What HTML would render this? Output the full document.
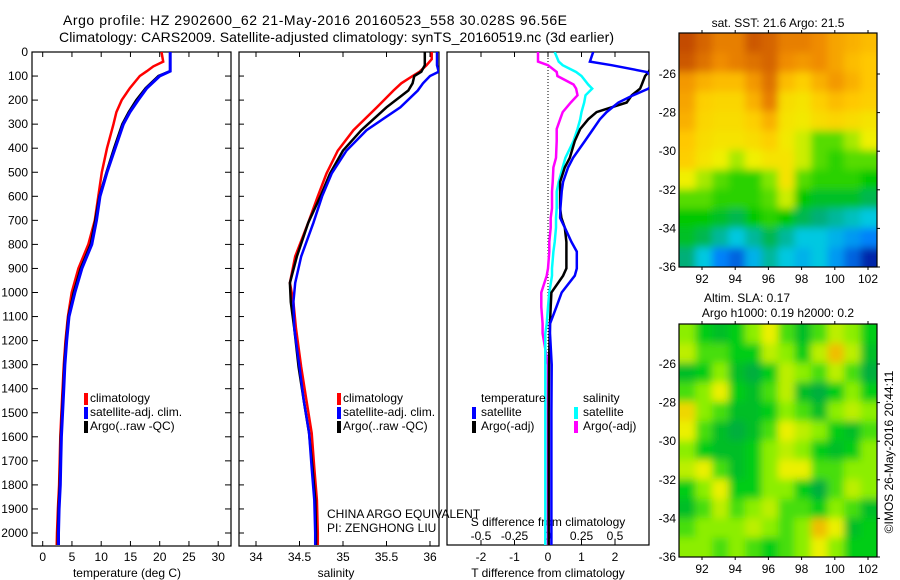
<!DOCTYPE html>
<html><head><meta charset="utf-8"><style>
body{margin:0;background:#fff}
svg{display:block;font-family:"Liberation Sans",sans-serif}
text{font-size:12px;fill:#000}
</style></head><body>
<svg id="s" width="900" height="580" viewBox="0 0 900 580">
<defs>
<clipPath id="c1"><rect x="32" y="52" width="199" height="494"/></clipPath>
<clipPath id="c2"><rect x="239" y="52" width="200" height="494"/></clipPath>
<clipPath id="c3"><rect x="447" y="52" width="202" height="493"/></clipPath>
<clipPath id="cm1"><rect x="679" y="33" width="198" height="234"/></clipPath>
<clipPath id="cm2"><rect x="679" y="324" width="198" height="233"/></clipPath>
<filter id="b1" x="-5%" y="-5%" width="110%" height="110%"><feGaussianBlur stdDeviation="4"/></filter>
<filter id="b2" x="-5%" y="-5%" width="110%" height="110%"><feGaussianBlur stdDeviation="4"/></filter>
</defs>
<text x="63" y="25" style="font-size:14px" textLength="504">Argo profile: HZ 2902600_62 21-May-2016 20160523_558 30.028S 96.56E</text>
<text x="59" y="42" style="font-size:14px" textLength="555">Climatology: CARS2009. Satellite-adjusted climatology: synTS_20160519.nc (3d earlier)</text>
<g id="g"></g>
</svg>
<script>
// ---- data ----
const depthT=[0,40,60,80,100,150,200,250,300,400,500,600,700,800,900,1000,1100,1200,1300,1400,1500,1600,1700,1800,1900,2000,2050];
const tempClim=[20.3,20.6,18.9,17.8,16.6,14.9,13.5,12.6,12.1,11.0,10.1,9.5,8.9,7.8,6.1,4.96,4.3,3.9,3.6,3.4,3.2,3.0,2.9,2.8,2.6,2.45,2.4];
const tempSat=[21.8,21.8,21.8,21.8,20.0,17.8,16.3,14.9,13.8,12.4,11.0,9.8,9.2,8.4,6.7,5.5,4.5,4.1,3.8,3.6,3.4,3.2,3.1,3.0,2.8,2.7,2.7];
const tempArgo=[21.8,21.8,21.8,21.8,19.8,17.6,16.0,14.7,13.6,12.2,10.9,9.7,9.0,8.2,6.5,5.3,4.4,4.0,3.7,3.5,3.3,3.1,3.0,2.9,2.7,2.6,2.6];
const depthS=[0,30,55,82,100,130,160,230,325,410,505,600,710,850,960,1040,1150,1310,1450,1585,1730,1863,2000,2050];
const salClim=[36.02,36.02,35.96,35.88,35.80,35.67,35.58,35.39,35.12,34.94,34.81,34.71,34.60,34.45,34.39,34.43,34.46,34.52,34.58,34.64,34.67,34.70,34.71,34.71];
const salArgo=[35.94,35.94,35.94,35.9,35.82,35.80,35.75,35.5,35.21,35.0,34.85,34.74,34.60,34.47,34.39,34.40,34.44,34.49,34.55,34.61,34.65,34.68,34.69,34.69];
const salSat=[36.08,36.08,36.08,36.1,36.0,35.92,35.86,35.66,35.27,35.04,34.87,34.76,34.66,34.52,34.45,34.43,34.44,34.5,34.55,34.61,34.64,34.67,34.68,34.68];
const depthD=[0,40,55,83,100,135,152,180,210,250,280,320,370,440,480,540,580,650,690,730,790,830,900,930,1000,1060,1130,1170,1300,1500,1700,1900,2050];
const dTsat=[1.35,1.25,1.9,2.95,3.1,3.1,3.0,2.54,2.1,1.75,1.55,1.35,1.1,0.75,0.6,0.45,0.41,0.37,0.36,0.5,0.7,0.86,0.86,0.8,0.41,0.25,0.06,0.06,0.11,0.1,0.1,0.1,0.1];
const dTargo=[3.1,3.1,3.1,3.0,2.9,2.8,2.75,2.5,2.35,1.45,1.2,0.96,0.8,0.65,0.5,0.36,0.36,0.36,0.4,0.5,0.55,0.55,0.55,0.45,0.1,0.08,0.06,0.05,0.03,0.02,0.02,0.02,0.02];
const dSsat=[0.05,0.08,0.11,0.21,0.25,0.30,0.33,0.28,0.27,0.25,0.24,0.22,0.19,0.13,0.11,0.08,0.065,0.065,0.06,0.06,0.05,0.04,0.03,0.03,0.01,0,-0.01,-0.02,-0.02,-0.02,-0.02,-0.02,-0.02];
const dSargo=[-0.075,-0.075,0.0,0.065,0.07,0.19,0.21,0.22,0.17,0.11,0.09,0.065,0.065,0.06,0.04,0.035,0.03,0.03,0.02,0.02,0.01,0.01,0.0,-0.01,-0.05,-0.05,-0.04,-0.04,0,0,0,0,0];
const depthTicks=[0,100,200,300,400,500,600,700,800,900,1000,1100,1200,1300,1400,1500,1600,1700,1800,1900,2000];
const tempTicks=[0,5,10,15,20,25,30];
const salTicks=[34,34.5,35,35.5,36];
const dTTicks=[-2,-1,0,1,2];
const dSTicks=[-0.5,-0.25,0,0.25,0.5];
const dSTickLabels=["-0.5","-0.25","0","0.25","0.5"];
const lonTicks=[92,94,96,98,100,102];
const latTicks=[-26,-28,-30,-32,-34,-36];
const sst=[
[22.4,22.2,22.0,22.0,22.3,22.2,22.0,22.0,21.9,21.7,21.6,21.5],
[22.3,22.1,21.9,22.0,22.1,22.2,21.9,21.8,21.9,21.7,21.5,21.4],
[21.8,21.6,21.5,21.5,21.8,22.1,21.5,21.3,21.6,21.8,21.6,21.4],
[21.7,21.3,21.2,21.2,21.6,22.0,21.1,21.0,21.3,21.5,21.4,21.3],
[21.6,21.2,21.1,21.1,21.3,21.6,21.0,20.9,21.1,21.2,21.1,21.0],
[21.4,21.1,21.0,21.0,21.1,21.3,20.9,20.7,20.4,20.4,20.6,20.8],
[21.3,21.0,20.8,20.6,20.8,21.0,21.0,20.7,20.4,20.3,20.4,20.4],
[20.8,20.6,20.4,20.3,20.3,20.5,21.0,20.4,20.3,20.3,20.3,20.2],
[20.4,20.4,20.3,20.3,20.3,20.4,20.7,20.2,20.1,20.1,20.1,20.0],
[20.2,20.2,20.1,20.0,20.2,20.3,20.2,20.0,19.9,19.8,19.7,19.6],
[20.1,20.0,19.8,19.6,19.8,20.0,19.8,19.6,19.6,19.5,19.4,19.3],
[19.9,19.6,19.3,19.2,19.5,19.8,19.6,19.5,19.6,19.4,19.2,19.0]];
const sla=[
[0.2,0.1,0.05,0.1,0.2,0.3,0.15,0.05,0.15,0.25,0.2,0.1],
[0.25,0.15,0.15,0.1,0.1,0.25,0.2,0.1,0.25,0.4,0.25,0.05],
[0.05,0.1,0.2,0.05,0.0,0.1,0.25,0.2,0.15,0.25,0.15,0.0],
[0.15,0.2,0.3,0.1,0.05,0.15,0.25,0.05,0.0,0.1,0.2,0.1],
[0.35,0.2,0.15,0.05,0.05,0.1,0.2,0.15,0.05,0.2,0.25,0.2],
[0.3,0.15,0.05,0.0,0.05,0.15,0.3,0.25,0.2,0.1,0.05,0.15],
[0.2,0.1,0.05,0.05,0.1,0.2,0.25,0.2,0.1,0.05,0.1,0.2],
[0.25,0.3,0.15,0.05,0.1,0.2,0.3,0.3,0.15,0.15,0.2,0.2],
[0.1,0.2,0.3,0.1,0.1,0.2,0.2,0.1,0.0,0.15,0.25,0.2],
[0.05,0.15,0.25,0.15,0.2,0.25,0.15,0.15,0.1,0.2,0.15,0.05],
[0.15,0.2,0.2,0.2,0.25,0.2,0.15,0.2,0.4,0.3,0.05,0.1],
[0.2,0.2,0.15,0.2,0.15,0.1,0.15,0.2,0.3,0.2,0.1,0.1]];

// ---- helpers ----
const NS="http://www.w3.org/2000/svg";const G=document.getElementById('g');
function mk(t,a,p){const e=document.createElementNS(NS,t);for(const k in a)e.setAttribute(k,a[k]);(p||G).appendChild(e);return e;}
const yD=d=>52+d*0.2405;
const xT=v=>42.7+v*5.85;
const xS=v=>256+(v-34)*87;
const xDT=v=>548+v*33.5;
const xDS=v=>548+v*134;
const xLon=v=>702+(v-92)*16.6;
const yLat=v=>74+(-26-v)*19.3;
function txt(x,y,s,anchor,name,size){const e=mk('text',{x:x,y:y,'text-anchor':anchor||'start'});e.textContent=s;if(size)e.style.fontSize=size+'px';


return e;}
function line(x1,y1,x2,y2,name,extra){const e=mk('line',Object.assign({x1:x1,y1:y1,x2:x2,y2:y2,stroke:'#000','stroke-width':1},extra||{}));


return e;}
function profile(depths,vals,xf,color,clip,name,w){const pts=depths.map((d,i)=>xf(vals[i]).toFixed(1)+','+yD(d).toFixed(1)).join(' ');
const e=mk('polyline',{points:pts,fill:'none',stroke:color,'stroke-width':w||2.5,'clip-path':'url(#'+clip+')','stroke-linejoin':'miter'});

}
function frame(x,y,w,h,name){const e=mk('rect',{x:x,y:y,width:w,height:h,fill:'none',stroke:'#000','stroke-width':1.2});

}
function legBar(x,y,color,name){const e=mk('rect',{x:x,y:y-9,width:4,height:12,fill:color});

}

// ---- panel 1: temperature ----
frame(32,52,199,494,'temperature-panel-frame');
depthTicks.forEach(d=>{line(32,yD(d),38,yD(d),'depth-tick');line(225,yD(d),231,yD(d),'depth-tick-right');txt(28,yD(d)+4,String(d),'end','depth-tick-label');});
tempTicks.forEach(v=>{line(xT(v),546,xT(v),541,'temp-tick');line(xT(v),52,xT(v),57,'temp-tick-top');txt(xT(v),561,String(v),'middle','temp-tick-label');});
txt(127,577,'temperature (deg C)','middle','temperature-axis-title');
profile(depthT,tempClim,xT,'#f00','c1','temp-climatology-line');
profile(depthT,tempArgo,xT,'#000','c1','temp-argo-line');
profile(depthT,tempSat,xT,'#00f','c1','temp-satellite-line',3);
legBar(84,402,'#f00','legend-climatology-swatch');txt(90,402,'climatology','start','legend-climatology');
legBar(84,416,'#00f','legend-satellite-swatch');txt(90,416,'satellite-adj. clim.','start','legend-satellite-adj');
legBar(84,430,'#000','legend-argo-swatch');txt(90,430,'Argo(..raw -QC)','start','legend-argo');

// ---- panel 2: salinity ----
frame(239,52,200,494,'salinity-panel-frame');
depthTicks.forEach(d=>{line(239,yD(d),244,yD(d),'depth-tick');});
salTicks.forEach(v=>{line(xS(v),546,xS(v),541,'sal-tick');line(xS(v),52,xS(v),57,'sal-tick-top');txt(xS(v),561,String(v),'middle','sal-tick-label');});
txt(336,577,'salinity','middle','salinity-axis-title');
profile(depthS,salClim,xS,'#f00','c2','sal-climatology-line');
profile(depthS,salArgo,xS,'#000','c2','sal-argo-line');
profile(depthS,salSat,xS,'#00f','c2','sal-satellite-line');
legBar(337,402,'#f00','legend-climatology-swatch');txt(343,402,'climatology','start','legend-climatology');
legBar(337,416,'#00f','legend-satellite-swatch');txt(343,416,'satellite-adj. clim.','start','legend-satellite-adj');
legBar(337,430,'#000','legend-argo-swatch');txt(343,430,'Argo(..raw -QC)','start','legend-argo');
txt(327,518,'CHINA ARGO EQUIVALENT','start','data-provider-label');
txt(327,532,'PI: ZENGHONG LIU','start','pi-label');

// ---- panel 3: differences ----
frame(447,52,202,493,'difference-panel-frame');
line(548,52,548,545,'zero-line',{'stroke-dasharray':'1,2'});
dTTicks.forEach(v=>{line(xDT(v),545,xDT(v),540,'dT-tick');line(xDT(v),52,xDT(v),57,'dT-tick-top');txt(xDT(v),561,String(v),'middle','dT-tick-label');});
dSTicks.forEach((v,i)=>{txt(xDS(v),540,dSTickLabels[i],'middle','dS-tick-label');});
txt(548,526,'S difference from climatology','middle','dS-axis-title');
txt(548,577,'T difference from climatology','middle','dT-axis-title');
profile(depthD,dSargo,xDS,'#f0f','c3','dS-argo-line');
profile(depthD,dSsat,xDS,'#0ff','c3','dS-satellite-line');
profile(depthD,dTargo,xDT,'#000','c3','dT-argo-line');
profile(depthD,dTsat,xDT,'#00f','c3','dT-satellite-line');
txt(481,402,'temperature','start','legend-temperature-header');
legBar(472,416,'#00f','legend-t-satellite-swatch');txt(481,416,'satellite','start','legend-t-satellite');
legBar(472,430,'#000','legend-t-argo-swatch');txt(481,430,'Argo(-adj)','start','legend-t-argo');
txt(583,402,'salinity','start','legend-salinity-header');
legBar(574,416,'#0ff','legend-s-satellite-swatch');txt(583,416,'satellite','start','legend-s-satellite');
legBar(574,430,'#f0f','legend-s-argo-swatch');txt(583,430,'Argo(-adj)','start','legend-s-argo');

// ---- maps ----
function lerpCol(stops,v){if(v<=stops[0][0])return stops[0][1];for(let i=1;i<stops.length;i++){if(v<=stops[i][0]){const a=stops[i-1],b=stops[i],t=(v-a[0])/(b[0]-a[0]);
const c=[0,1,2].map(k=>Math.round(a[1][k]+(b[1][k]-a[1][k])*t));return c;}}return stops[stops.length-1][1];}
const sstStops=[[19.0,[0,40,170]],[19.3,[0,130,250]],[19.6,[0,200,225]],[19.9,[0,175,120]],[20.2,[0,200,0]],[20.5,[130,230,0]],[20.8,[240,240,0]],[21.4,[255,200,0]],[21.9,[240,140,0]],[22.4,[195,75,0]]];
const slaStops=[[0.0,[0,175,60]],[0.1,[0,205,20]],[0.2,[140,238,0]],[0.3,[235,240,0]],[0.4,[240,190,0]]];
function heat(grid,stops,x0,y0,w,h,clip,filt,name){const g=mk('g',{'clip-path':'url(#'+clip+')'});


const inner=mk('g',{filter:'url(#'+filt+')'},g);const R=grid.length,C=grid[0].length,cw=w/C,ch=h/R;
for(let r=-1;r<=R;r++)for(let c=-1;c<=C;c++){const rr=Math.min(R-1,Math.max(0,r)),cc=Math.min(C-1,Math.max(0,c));const col=lerpCol(stops,grid[rr][cc]);
const e=mk('rect',{x:x0+c*cw,y:y0+r*ch,width:cw+0.5,height:ch+0.5,fill:'rgb('+col.join(',')+')'},inner);

}}
function mapAxes(y0,h,yl,name){frame(679,y0,198,h,name);
lonTicks.forEach(v=>{line(xLon(v),y0+h,xLon(v),y0+h+3,'lon-tick');line(xLon(v),y0,xLon(v),y0-3,'lon-tick-top');txt(xLon(v),y0+h+16,String(v),'middle','lon-tick-label');});
latTicks.forEach(v=>{const y=yl(v);line(877,y,880,y,'lat-tick');txt(676,y+4,String(v),'end','lat-tick-label');});}
heat(sst,sstStops,679,33,198,234,'cm1','b1','sst-map');
mapAxes(33,234,yLat,'sst-map-frame');
txt(778,27,'sat. SST: 21.6 Argo: 21.5','middle','sst-map-title');
const yLat2=v=>364+(-26-v)*19.3;
heat(sla,slaStops,679,324,198,233,'cm2','b2','sla-map');
mapAxes(324,233,yLat2,'sla-map-frame');
txt(747,302,'Altim. SLA: 0.17','middle','sla-map-title');
txt(778,317,'Argo h1000: 0.19 h2000: 0.2','middle','sla-map-subtitle');
const cp=txt(0,0,'©IMOS 26-May-2016 20:44:11','middle','copyright-label');
cp.setAttribute('transform','translate(893,452) rotate(-90)');
</script>
</body></html>
